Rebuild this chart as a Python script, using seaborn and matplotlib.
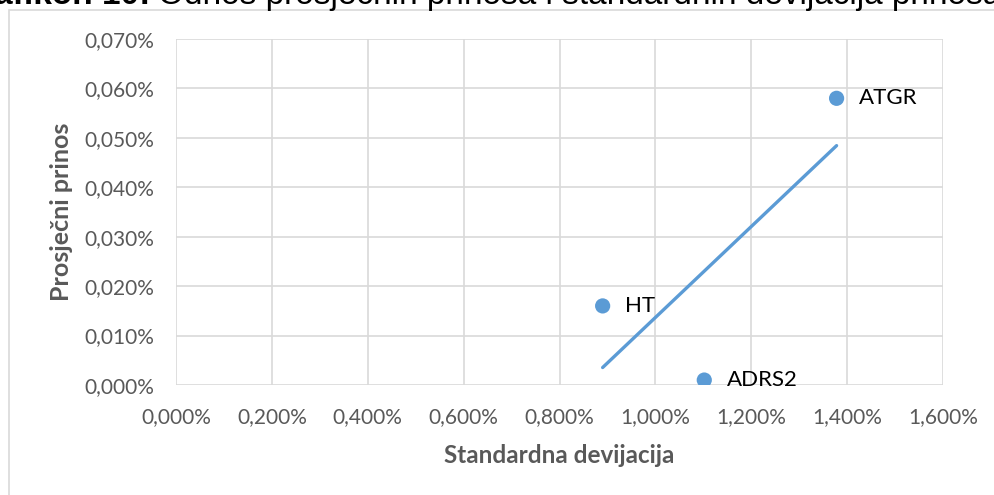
import matplotlib
matplotlib.use("Agg")
import matplotlib.pyplot as plt
import seaborn as sns
import pandas as pd
from matplotlib.patches import Rectangle
from matplotlib.ticker import FuncFormatter

# data (values in percent)
names = ["ATGR", "HT", "ADRS2"]
std_dev = [1.378, 0.890, 1.102]
avg_return = [0.058, 0.016, 0.001]
x_ticks = [0.0, 0.2, 0.4, 0.6, 0.8, 1.0, 1.2, 1.4, 1.6]
y_ticks = [0.0, 0.01, 0.02, 0.03, 0.04, 0.05, 0.06, 0.07]
title_bold = "Grafikon 10:"
title_rest = "Odnos prosječnih prinosa i standardnih devijacija prinosa"

df = pd.DataFrame({"name": names, "sd": std_dev, "ret": avg_return})

sns.set_theme(style="whitegrid")
FONT = ["Lato", "DejaVu Sans"]
plt.rcParams["font.family"] = FONT

W, H = 994, 495
fig = plt.figure(figsize=(W / 100, H / 100), dpi=100)
fig.patch.set_facecolor("white")

# outer chart border (cropped screenshot)
fig.patches.append(Rectangle((9 / W, -0.1), 1.2, 1.1 - 10 / H,
                             transform=fig.transFigure, fill=False,
                             edgecolor="#d9d9d9", lw=1.2, zorder=0))
# title (cropped at the top edge as in the reference)
fig.text(150 / W, 1 - 4 / H, title_bold, fontsize=24, fontweight="bold",
         color="black", va="baseline", ha="right", family=["Liberation Sans"])
fig.text(158 / W, 1 - 4 / H, title_rest,
         fontsize=24, color="black", va="baseline", ha="left", family=["Liberation Sans"])

ax = fig.add_axes([176 / W, (H - 385) / H, (943 - 176) / W, (385 - 39) / H])
ax.set_facecolor("white")

blue = "#5B9BD5"
sns.regplot(data=df, x="sd", y="ret", scatter=False, ci=None, truncate=True,
            ax=ax, line_kws={"color": blue, "lw": 2.4, "solid_capstyle": "round"})
sns.scatterplot(data=df, x="sd", y="ret", ax=ax, color=blue, s=120,
                edgecolor="none", zorder=5)
for n, xv, yv in zip(names, std_dev, avg_return):
    ax.annotate(n, (xv, yv), xytext=(16, 0), textcoords="offset points",
                va="center", ha="left", fontsize=16, color="black", zorder=6)

ax.set_xlim(0, 1.6)
ax.set_ylim(0, 0.07)
ax.set_xticks(x_ticks)
ax.set_yticks(y_ticks)
ax.xaxis.set_major_formatter(FuncFormatter(lambda v, p: f"{v:.3f}%".replace(".", ",")))
ax.yaxis.set_major_formatter(FuncFormatter(lambda v, p: f"{v:.3f}%".replace(".", ",")))
ax.grid(True, color="#d9d9d9", lw=1.2)
for s in ax.spines.values():
    s.set_visible(False)
ax.tick_params(axis="both", length=0, labelsize=15, labelcolor="#595959")
ax.tick_params(axis="y", pad=16)
ax.tick_params(axis="x", pad=16)
ax.set_xlabel("Standardna devijacija", fontsize=17.5, fontweight="bold",
              color="#595959", labelpad=12)
ax.set_ylabel("Prosječni prinos", fontsize=18, fontweight="bold",
              color="#595959", labelpad=8)

fig.savefig("out.png", dpi=100)
